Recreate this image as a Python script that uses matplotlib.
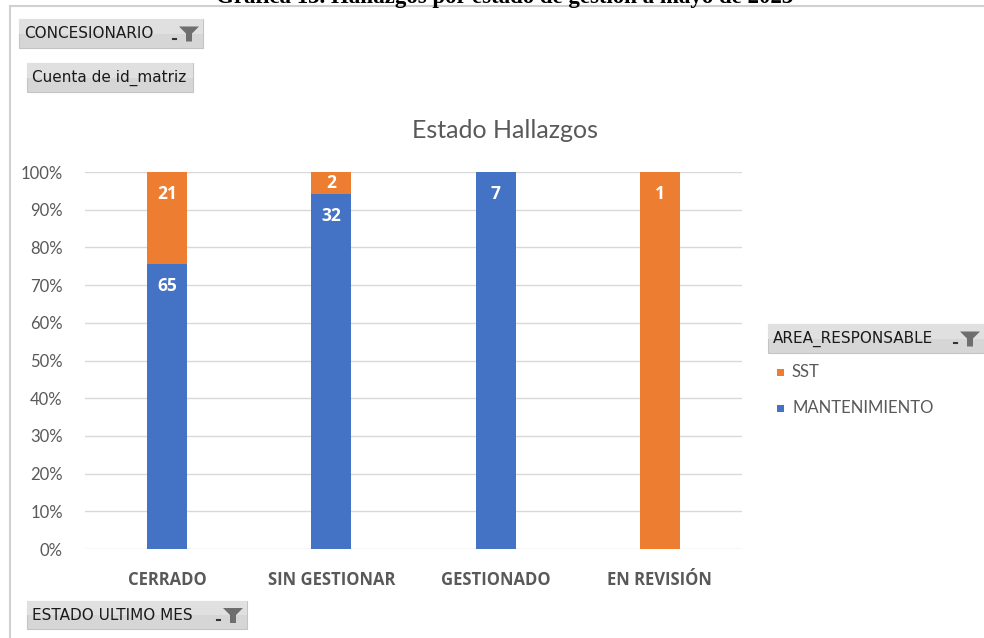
import matplotlib.pyplot as plt
from matplotlib.patches import Rectangle, Polygon
from matplotlib.lines import Line2D

categories = ["CERRADO", "SIN GESTIONAR", "GESTIONADO", "EN REVISIÓN"]
mantenimiento = [65, 32, 7, 0]
sst = [21, 2, 0, 1]
y_ticks = [0, 10, 20, 30, 40, 50, 60, 70, 80, 90, 100]

BLUE = "#4472C4"
ORANGE = "#ED7D31"
GRAY_TXT = "#595959"
BOLD_FONT = ["Open Sans", "DejaVu Sans"]
W, H = 984, 638

plt.rcParams['font.family'] = ['Lato', 'DejaVu Sans']

fig = plt.figure(figsize=(W / 100, H / 100), dpi=100)


def fx(px):
    return px / W


def fy(py):
    return 1 - py / H


# frame lines of the pasted picture
fig.add_artist(Line2D([fx(10), 1], [fy(6), fy(6)], color="#D0D0D0", lw=1.5))
fig.add_artist(Line2D([fx(10), fx(10)], [fy(6), 0], color="#D0D0D0", lw=1.5))

# document caption, cut at the top like in the source picture
fig.text(fx(505), fy(3), "Gráfica 13. Hallazgos por estado de gestión a mayo de 2023",
         family="Liberation Serif", weight="bold", fontsize=16.5, ha="center", va="baseline")

ax = fig.add_axes([fx(85), fy(549), fx(742) - fx(85), fy(172) - fy(549)])

totals = [m + s for m, s in zip(mantenimiento, sst)]
pct_m = [m / t * 100 for m, t in zip(mantenimiento, totals)]
pct_s = [s / t * 100 for s, t in zip(sst, totals)]
x = list(range(len(categories)))
bw = 0.245

ax.bar(x, pct_m, width=bw, color=BLUE, zorder=3)
ax.bar(x, pct_s, width=bw, bottom=pct_m, color=ORANGE, zorder=3)

# data labels near the top of each segment
for i in x:
    segs = [(mantenimiento[i], 0, pct_m[i]), (sst[i], pct_m[i], pct_m[i] + pct_s[i])]
    for val, lo, hi in segs:
        if val == 0:
            continue
        yl = max(hi - 5.8, (lo + hi) / 2)
        ax.text(i, yl, str(val), ha="center", va="center", color="white",
                fontsize=12.5, weight="bold", family=BOLD_FONT, zorder=4)

ax.set_xlim(-0.5, len(categories) - 0.5)
ax.set_ylim(0, 100)
ax.set_yticks(y_ticks)
ax.set_yticklabels([f"{t}%" for t in y_ticks])
ax.set_xticks(x)
ax.set_xticklabels(categories, weight="bold", family=BOLD_FONT, fontsize=12)
ax.tick_params(axis="y", colors=GRAY_TXT, labelsize=12, length=0, pad=16)
ax.tick_params(axis="x", colors=GRAY_TXT, length=0, pad=16)
ax.grid(axis="y", color="#D9D9D9", lw=1, zorder=0)
for s in ax.spines.values():
    s.set_visible(False)

fig.text(fx(505), fy(130), "Estado Hallazgos", ha="center", va="center",
         fontsize=18, color=GRAY_TXT)


def field_button(x0, y0, x1, y1, label, funnel=True):
    fig.add_artist(Rectangle((fx(x0), fy(y1)), fx(x1) - fx(x0), fy(y0) - fy(y1),
                             transform=fig.transFigure, facecolor="#D6D6D6",
                             edgecolor="#C4C4C4", lw=0.8))
    fig.add_artist(Rectangle((fx(x0), fy((y0 + y1) / 2)), fx(x1) - fx(x0),
                             fy(y0) - fy((y0 + y1) / 2), transform=fig.transFigure,
                             facecolor="#E0E0E0", edgecolor="none"))
    fig.text(fx(x0 + 5), fy((y0 + y1) / 2), label, ha="left", va="center",
             fontsize=11, color="#1A1A1A",
             family=["Liberation Sans Narrow", "DejaVu Sans"])
    if funnel:
        cx = x1 - 14
        cy = (y0 + y1) / 2
        pts = [(cx - 10, cy - 7), (cx + 10, cy - 7), (cx + 3, cy), (cx + 3, cy + 8),
               (cx - 3, cy + 8), (cx - 3, cy)]
        fig.add_artist(Polygon([(fx(a), fy(b)) for a, b in pts], closed=True,
                               transform=fig.transFigure, facecolor="#6E6E6E",
                               edgecolor="none"))
        fig.add_artist(Line2D([fx(cx - 16), fx(cx - 13)], [fy(cy + 5), fy(cy + 5)],
                              color="#333333", lw=1.5))


field_button(19, 19, 203, 48, "CONCESIONARIO")
field_button(27, 63, 193, 92, "Cuenta de id_matriz", funnel=False)
field_button(27, 601, 247, 629, "ESTADO ULTIMO MES")
field_button(768, 324, 984, 353, "AREA_RESPONSABLE")

# legend entries
for yy, col, lab in [(372, ORANGE, "SST"), (408, BLUE, "MANTENIMIENTO")]:
    fig.add_artist(Rectangle((fx(777), fy(yy + 4)), fx(7), fy(0) - fy(7),
                             transform=fig.transFigure, facecolor=col, edgecolor="none"))
    fig.text(fx(792), fy(yy), lab, ha="left", va="center", fontsize=12, color=GRAY_TXT)

fig.savefig("out.png", dpi=100)
